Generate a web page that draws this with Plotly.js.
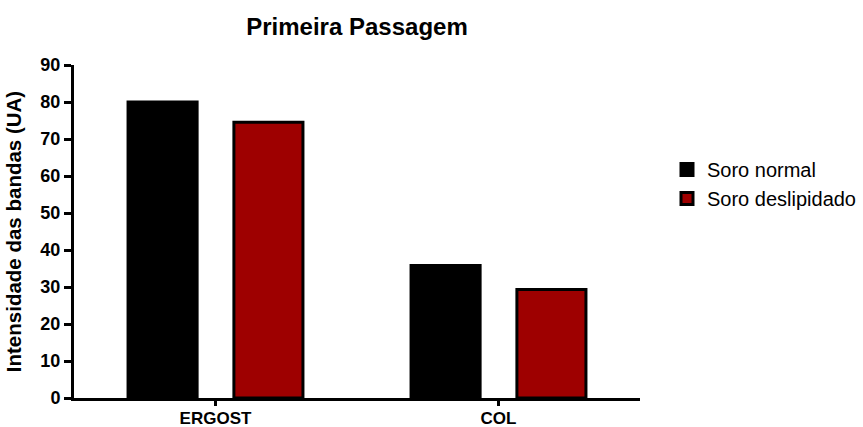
<!DOCTYPE html>
<html>
<head>
<meta charset="utf-8">
<script src="https://cdn.plot.ly/plotly-3.0.1.min.js"></script>
<style>html,body{margin:0;padding:0;background:#fff;}</style>
</head>
<body>
<div id="chart" style="width:863px;height:427px;"></div>
<script>
const categories = ["ERGOST", "COL"];
const soroNormal = [80, 35.8];
const soroDeslipidado = [74.5, 29.3];
const seriesNames = ["Soro normal", "Soro deslipidado"];
const yTicks = [0, 10, 20, 30, 40, 50, 60, 70, 80, 90];

const font = "Liberation Sans, Arial, sans-serif";

const traces = [
  {
    type: "bar", x: categories, y: soroNormal, name: seriesNames[0],
    width: 0.244, offset: -0.309,
    marker: {color: "#000000", line: {color: "#000000", width: 3}}
  },
  {
    type: "bar", x: categories, y: soroDeslipidado, name: seriesNames[1],
    width: 0.244, offset: 0.065,
    marker: {color: "#9e0000", line: {color: "#000000", width: 3}}
  }
];

const layout = {
  width: 863, height: 427,
  margin: {l: 74, r: 223, t: 65, b: 29, autoexpand: false},
  paper_bgcolor: "#fff", plot_bgcolor: "#fff",
  font: {family: font, color: "#000"},
  title: {
    text: "<b>Primeira Passagem</b>",
    font: {size: 24, family: font, color: "#000"},
    x: 357/863, xanchor: "center", xref: "container",
    y: 1 - 27/427, yanchor: "middle", yref: "container"
  },
  barmode: "overlay",
  showlegend: true,
  legend: {
    xref: "container", yref: "container",
    x: 667/863, xanchor: "left", y: 1 - 150/427, yanchor: "top",
    font: {size: 20, family: font, color: "#000"},
    tracegroupgap: 0, itemwidth: 30
  },
  xaxis: {
    type: "category",
    range: [-0.5, 1.5],
    automargin: false,
    showline: true, linecolor: "#000", linewidth: 3,
    ticks: "outside", ticklen: 5, tickwidth: 3, tickcolor: "#000",
    tickfont: {size: 17, family: font, color: "#000", weight: "bold"},
    ticklabelstandoff: -2,
    showgrid: false, zeroline: false, fixedrange: true
  },
  yaxis: {
    range: [0, 90],
    automargin: false,
    tickvals: yTicks, ticktext: yTicks.map(String),
    showline: true, linecolor: "#000", linewidth: 3,
    ticks: "outside", ticklen: 7, tickwidth: 3, tickcolor: "#000",
    tickfont: {size: 18, family: font, color: "#000", weight: "bold"},
    showgrid: false, zeroline: false,
    title: {text: "<b>Intensidade das bandas (UA)</b>", font: {size: 20.5, family: font, color: "#000"}}
  }
};

Plotly.newPlot("chart", traces, layout, {displayModeBar: false, staticPlot: true});
</script>
</body>
</html>
